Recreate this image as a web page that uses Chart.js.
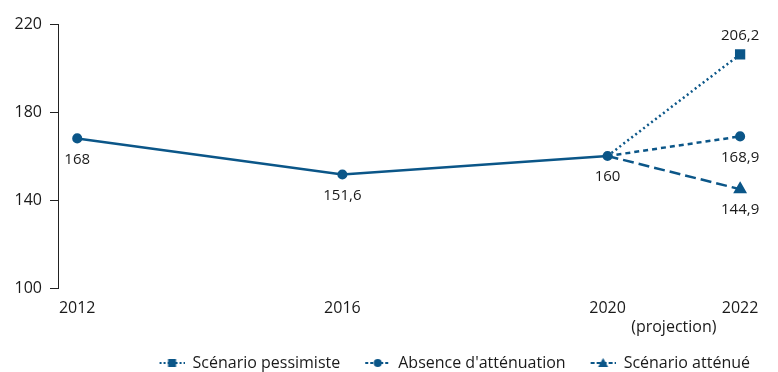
<!DOCTYPE html>
<html>
<head>
<meta charset="utf-8">
<script src="https://cdn.jsdelivr.net/npm/chart.js@4.4.0/dist/chart.umd.min.js"></script>
<style>
  html, body { margin: 0; padding: 0; background: #fff; }
  #wrap { width: 778px; height: 372px; position: relative; }
</style>
</head>
<body>
<div id="wrap"><canvas id="chart"></canvas></div>
<script>
// data
const years = [2012, 2016, 2020];
const observed = [168, 151.6, 160];
const projYears = [2020, 2022];
const pessimiste = [160, 206.2];
const absence = [160, 168.9];
const attenue = [160, 144.9];
const yTicks = [100, 140, 180, 220];
const xTicks = [2012, 2016, 2020, 2022];
const seriesNames = ['Scénario pessimiste', "Absence d'atténuation", 'Scénario atténué'];
const projectionNote = '(projection)';

const BLUE = '#0b5688';
const FONT = "'Open Sans', sans-serif";
const TEXT = '#1a1a1a';

function pts(xs, ys) { return xs.map((x, i) => ({ x: x, y: ys[i] })); }
function fmt(v) { return String(v).replace('.', ','); }

// legend symbol: blank gap on the left, then a short dashed line with the marker in the middle
function legendIcon(dash, marker) {
  const c = document.createElement('canvas');
  c.width = 40; c.height = 12;
  const g = c.getContext('2d');
  const x0 = 15, w = 25, cx = x0 + w / 2;
  g.strokeStyle = BLUE; g.fillStyle = BLUE; g.lineWidth = 2;
  g.setLineDash(dash);
  g.beginPath(); g.moveTo(x0, 6); g.lineTo(x0 + w, 6); g.stroke();
  g.setLineDash([]);
  g.beginPath();
  if (marker === 'rect') g.rect(cx - 4, 2, 8, 8);
  else if (marker === 'circle') g.arc(cx, 6, 4, 0, Math.PI * 2);
  else { g.moveTo(cx, 1); g.lineTo(cx + 5, 10); g.lineTo(cx - 5, 10); g.closePath(); }
  g.fill();
  return c;
}

const pointLabels = {
  id: 'pointLabels',
  afterLayout(chart) {
    // push the legend row down a little
    chart.legend.top += 9;
    chart.legend.bottom += 9;
  },
  afterDatasetsDraw(chart) {
    const ctx = chart.ctx;
    ctx.save();
    ctx.font = '15px ' + FONT;
    ctx.fillStyle = TEXT;
    ctx.textAlign = 'center';
    ctx.textBaseline = 'middle';
    chart.data.datasets.forEach((ds, di) => {
      const meta = chart.getDatasetMeta(di);
      ds.data.forEach((p, i) => {
        const where = ds.labelAt[i];
        if (!where) return;
        const el = meta.data[i];
        ctx.fillText(fmt(p.y), el.x, el.y + (where === 'above' ? -19 : 21));
      });
    });
    // note under the 2020-2022 span
    ctx.font = '16px ' + FONT;
    const xs = chart.scales.x;
    ctx.fillText(projectionNote, xs.getPixelForValue(2021), 327);
    ctx.restore();
  }
};

new Chart(document.getElementById('chart'), {
  type: 'line',
  data: {
    datasets: [
      {
        label: 'observed',
        data: pts(years, observed),
        borderColor: BLUE, backgroundColor: BLUE,
        borderWidth: 2.5, pointRadius: 3.8, pointHoverRadius: 3.8,
        labelAt: ['below', 'below', 'below']
      },
      {
        label: seriesNames[0],
        data: pts(projYears, pessimiste),
        borderColor: BLUE, backgroundColor: BLUE,
        borderWidth: 2.5, borderDash: [2, 3],
        pointStyle: 'rect', pointRadius: [0, 5.5], pointHoverRadius: [0, 5.5],
        legendIcon: legendIcon([2, 2], 'rect'),
        labelAt: [null, 'above']
      },
      {
        label: seriesNames[1],
        data: pts(projYears, absence),
        borderColor: BLUE, backgroundColor: BLUE,
        borderWidth: 2.5, borderDash: [5, 4],
        pointStyle: 'circle', pointRadius: [0, 3.8], pointHoverRadius: [0, 3.8],
        legendIcon: legendIcon([3, 2], 'circle'),
        labelAt: [null, 'below']
      },
      {
        label: seriesNames[2],
        data: pts(projYears, attenue),
        borderColor: BLUE, backgroundColor: BLUE,
        borderWidth: 2.5, borderDash: [11, 5],
        pointStyle: 'triangle', pointRadius: [0, 5.5], pointHoverRadius: [0, 5.5],
        legendIcon: legendIcon([4, 2], 'triangle'),
        labelAt: [null, 'below']
      }
    ]
  },
  options: {
    responsive: true,
    maintainAspectRatio: false,
    animation: false,
    layout: { padding: { left: 0, right: 18, top: 24, bottom: 0 } },
    scales: {
      x: {
        type: 'linear',
        min: 2011.71,
        max: 2022.30,
        afterBuildTicks(scale) { scale.ticks = xTicks.map(v => ({ value: v })); },
        afterFit(scale) { scale.height = 48; },
        ticks: { font: { family: FONT, size: 16 }, color: TEXT, padding: 3, maxRotation: 0, autoSkip: false,
                 callback: v => String(v) },
        grid: { display: false },
        border: { display: false }
      },
      y: {
        min: 100,
        max: 220,
        afterBuildTicks(scale) { scale.ticks = yTicks.map(v => ({ value: v })); },
        afterFit(scale) { scale.width = 58; },
        ticks: { font: { family: FONT, size: 16 }, color: TEXT, padding: 8 },
        grid: { drawOnChartArea: false, tickLength: 8, color: '#222', lineWidth: 1 },
        border: { display: true, color: '#222', width: 1 }
      }
    },
    plugins: {
      tooltip: { enabled: false },
      legend: {
        position: 'bottom',
        align: 'end',
        labels: {
          usePointStyle: true,
          pointStyleWidth: 40,
          boxHeight: 12,
          padding: 10,
          color: TEXT,
          font: { family: FONT, size: 16 },
          filter: item => item.datasetIndex > 0,
          generateLabels(chart) {
            return chart.data.datasets.map((ds, i) => ({
              text: ds.label,
              datasetIndex: i,
              pointStyle: ds.legendIcon,
              fillStyle: BLUE, strokeStyle: BLUE, lineWidth: 0,
              fontColor: TEXT, hidden: false
            }));
          }
        }
      }
    }
  },
  plugins: [pointLabels]
});
</script>
</body>
</html>
